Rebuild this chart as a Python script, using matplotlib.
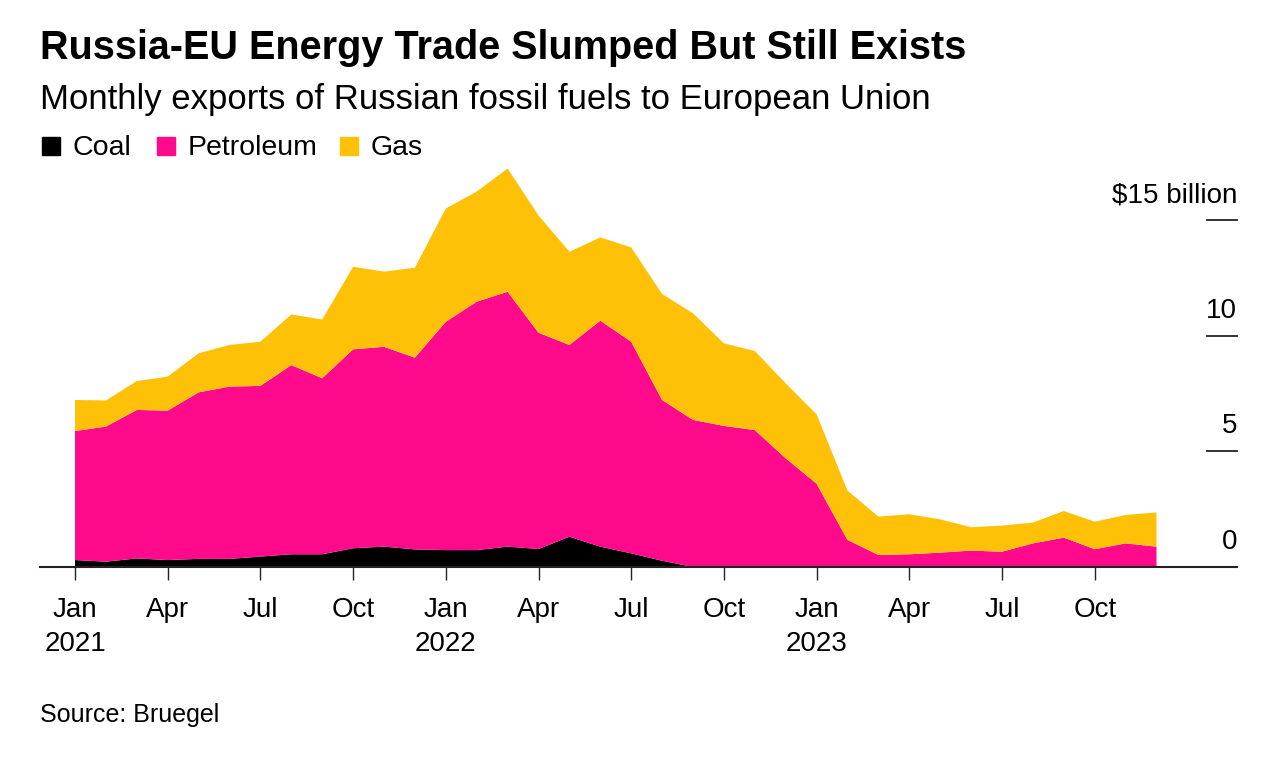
import numpy as np
import matplotlib
matplotlib.use('Agg')
import matplotlib.pyplot as plt
import matplotlib.transforms as mtransforms

plt.rcParams['font.family'] = ['Liberation Sans', 'DejaVu Sans']

# Exportaciones mensuales (miles de millones de USD), ene 2021 - dic 2023
meses = np.arange(36)
carbon = [0.30, 0.23, 0.37, 0.30, 0.35, 0.35, 0.45, 0.55, 0.55, 0.81, 0.88, 0.76,
          0.73, 0.73, 0.88, 0.78, 1.31, 0.88, 0.59, 0.27, 0, 0, 0, 0,
          0, 0, 0, 0, 0, 0, 0, 0, 0, 0, 0, 0]
petroleo = [5.58, 5.84, 6.42, 6.46, 7.20, 7.45, 7.38, 8.18, 7.61, 8.60, 8.64, 8.29,
            9.87, 10.74, 11.02, 9.35, 8.29, 9.77, 9.15, 6.95, 6.36, 6.10, 5.92, 4.70,
            3.60, 1.17, 0.52, 0.55, 0.62, 0.71, 0.66, 1.02, 1.27, 0.77, 1.02, 0.88]
gas = [1.34, 1.13, 1.25, 1.47, 1.69, 1.80, 1.91, 2.19, 2.54, 3.57, 3.25, 3.89,
       4.90, 4.76, 5.33, 5.07, 4.03, 3.60, 4.08, 4.58, 4.61, 3.57, 3.42, 3.24,
       3.00, 2.13, 1.66, 1.73, 1.44, 1.01, 1.13, 0.90, 1.15, 1.19, 1.23, 1.48]

etiquetas_x = ['Jan\n2021', 'Apr', 'Jul', 'Oct', 'Jan\n2022', 'Apr', 'Jul', 'Oct',
               'Jan\n2023', 'Apr', 'Jul', 'Oct']
ticks_y = [0, 5, 10, 15]
etiquetas_y = ['0', '5', '10', '$15 billion']

colores = ['#000000', '#FF0A8C', '#FFC107']

fig = plt.figure(figsize=(12.8, 7.62), dpi=100)
W, H = 1280, 762
ax = fig.add_axes([40 / W, 1 - 567 / H, 1197 / W, (567 - 160) / H])

ax.stackplot(meses, carbon, petroleo, gas, colors=colores, linewidth=0)

px_mes = 30.9
ax.set_xlim(-35 / px_mes, 1162 / px_mes)
ax.set_ylim(0, (567 - 160) / 23.13)

for s in ['top', 'right', 'left']:
    ax.spines[s].set_visible(False)
ax.spines['bottom'].set_linewidth(1.5)
ax.spines['bottom'].set_color('#222222')

ax.set_xticks(meses[::3])
ax.set_xticklabels(etiquetas_x, fontsize=20, linespacing=1.42, va='top')
ax.tick_params(axis='x', length=9.5, width=1, color='#222222', pad=12)
ax.set_yticks([])

# Ticks y etiquetas del eje y a la derecha
trans = mtransforms.blended_transform_factory(ax.transAxes, ax.transData)
for v, lab in zip(ticks_y, etiquetas_y):
    if v > 0:
        ax.plot([(1207 - 40) / 1197, 1.0], [v, v], color='#222222', lw=1.3,
                transform=trans, clip_on=False)
    ax.text(1.0, v + 0.78, lab, transform=trans, ha='right', va='baseline',
            fontsize=20)

fig.text(40 / W, 1 - 59 / H, 'Russia-EU Energy Trade Slumped But Still Exists',
         fontsize=28.5, fontweight='bold', va='baseline')
fig.text(40 / W, 1 - 109 / H, 'Monthly exports of Russian fossil fuels to European Union',
         fontsize=25, va='baseline')

# Leyenda
nombres = ['Coal', 'Petroleum', 'Gas']
cuadros_x = [42, 157, 340]
for x0, nom, c in zip(cuadros_x, nombres, colores):
    fig.patches.append(plt.Rectangle((x0 / W, 1 - 155 / H), 18 / W, 18 / H,
                                     color=c, transform=fig.transFigure))
    fig.text((x0 + 31) / W, 1 - 155 / H, nom, fontsize=20.5, va='baseline')

fig.text(40 / W, 1 - 722 / H, 'Source: Bruegel', fontsize=18, va='baseline')

fig.savefig('out.png', dpi=100)
